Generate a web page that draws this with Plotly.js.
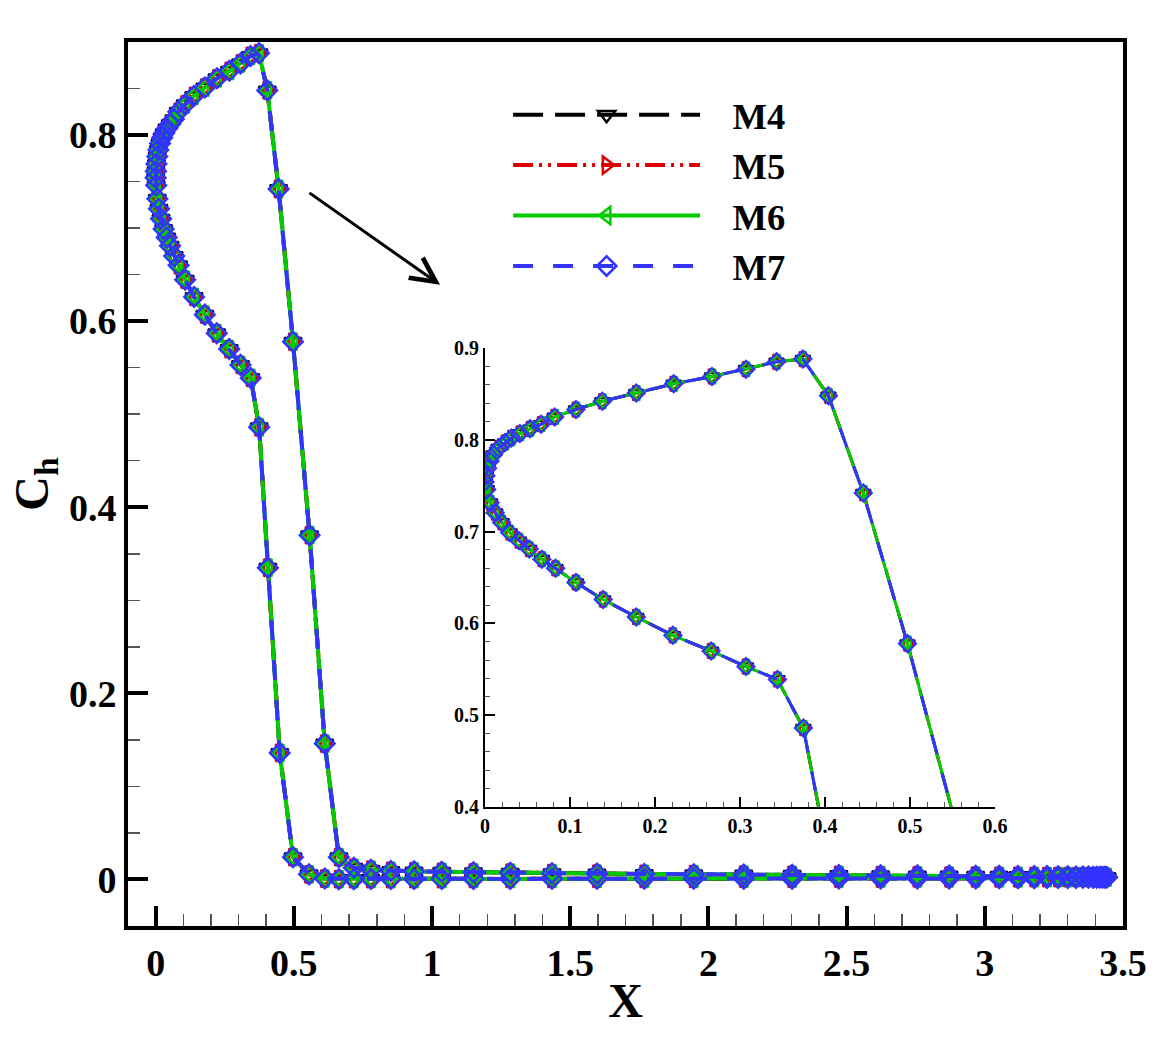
<!DOCTYPE html>
<html>
<head>
<meta charset="utf-8">
<script src="https://cdn.plot.ly/plotly-3.0.1.min.js"></script>
<style>
  html, body { margin: 0; padding: 0; background: #fff; }
  #plot { width: 1171px; height: 1041px; }
</style>
</head>
<body>
<div id="plot"></div>
<script>
"use strict";

// surface stations, nose -> tail (the four meshes overlap)
const xUpper = [0.000, 0.001, 0.003, 0.006, 0.010, 0.016, 0.0235, 0.031, 0.041, 0.053,
  0.066, 0.082, 0.107, 0.138, 0.178, 0.222, 0.267, 0.307, 0.343, 0.374,
  0.404, 0.445, 0.497, 0.557, 0.612, 0.663,
  0.717, 0.779, 0.851, 0.935, 1.035, 1.150, 1.283, 1.434, 1.597, 1.768,
  1.947, 2.128, 2.303, 2.472, 2.623, 2.756, 2.871, 2.967, 3.052, 3.120,
  3.179, 3.225, 3.265, 3.300, 3.330, 3.355, 3.375, 3.392, 3.405, 3.416,
  3.425, 3.432, 3.438, 3.442];
const yUpper = [0.754, 0.761, 0.769, 0.777, 0.784, 0.791, 0.797, 0.802, 0.807, 0.812,
  0.817, 0.825, 0.833, 0.842, 0.851, 0.861, 0.869, 0.877, 0.885, 0.888,
  0.848, 0.742, 0.578, 0.370, 0.146, 0.024,
  0.0125, 0.0105, 0.0092, 0.0087, 0.0082, 0.0077, 0.0073, 0.0068, 0.0063, 0.0059,
  0.0056, 0.0053, 0.0050, 0.0048, 0.0046, 0.0044, 0.0042, 0.0040, 0.0039, 0.0038,
  0.0037, 0.0036, 0.0035, 0.0034, 0.0033, 0.0032, 0.0031, 0.0030, 0.0029, 0.0028,
  0.0027, 0.0026, 0.0025, 0.0024];

const xLower = [0.002, 0.006, 0.012, 0.0196, 0.029, 0.040, 0.052, 0.067, 0.083, 0.107,
  0.139, 0.178, 0.221, 0.266, 0.307, 0.344, 0.3745,
  0.406, 0.449, 0.497, 0.555, 0.612, 0.663,
  0.717, 0.779, 0.851, 0.935, 1.035, 1.150, 1.283, 1.434, 1.597, 1.768,
  1.947, 2.128, 2.303, 2.472, 2.623, 2.756, 2.871, 2.967, 3.052, 3.120,
  3.179, 3.225, 3.265, 3.300, 3.330, 3.355, 3.375, 3.392, 3.405, 3.416,
  3.425, 3.432, 3.438, 3.442];
const yLower = [0.746, 0.7315, 0.7207, 0.710, 0.699, 0.690, 0.681, 0.670, 0.660, 0.6446,
  0.626, 0.607, 0.587, 0.570, 0.553, 0.539, 0.486,
  0.335, 0.136, 0.024, 0.0055, 0.0010, 0.0003,
  0.0003, 0.0004, 0.0004, 0.0005, 0.0005, 0.0006, 0.0006, 0.0007, 0.0007, 0.0008,
  0.0008, 0.0009, 0.0009, 0.0010, 0.0010, 0.0011, 0.0011, 0.0012, 0.0013, 0.0013,
  0.0014, 0.0015, 0.0016, 0.0016, 0.0017, 0.0018, 0.0019, 0.0019, 0.0020, 0.0021,
  0.0021, 0.0022, 0.0023, 0.0023];

const meshNames = ["M4", "M5", "M6", "M7"];
const meshColors = ["#000000", "#dd0000", "#00cc00", "#3333ff"];
const meshDash = ["30px,12px", "20px,6px,3px,6px,3px,6px", "solid", "20px,20px"];
const meshSymbols = ["triangle-down-open", "triangle-right-open", "triangle-left-open", "diamond-open"];

const mainXTicks = [0, 0.5, 1, 1.5, 2, 2.5, 3, 3.5];
const mainYTicks = [0, 0.2, 0.4, 0.6, 0.8];
const insetXTicks = [0, 0.1, 0.2, 0.3, 0.4, 0.5, 0.6];
const insetYTicks = [0.4, 0.5, 0.6, 0.7, 0.8, 0.9];

// one continuous path: lower tail -> nose -> upper tail
const pathX = xLower.slice().reverse().concat(xUpper);
const pathY = yLower.slice().reverse().concat(yUpper);

const serif = "Liberation Serif, Times New Roman, serif";

const data = [];
meshNames.forEach((name, i) => {
  const base = {
    x: pathX,
    y: pathY,
    type: "scatter",
    mode: "lines+markers",
    name: "\u00a0\u00a0\u00a0" + name,
    legendgroup: name,
    line: { color: meshColors[i], width: 4, dash: meshDash[i] },
    marker: { symbol: meshSymbols[i], size: 15, color: meshColors[i], line: { width: 2.5, color: meshColors[i] } },
  };
  data.push(Object.assign({}, base, { xaxis: "x", yaxis: "y" }));
  data.push(Object.assign({}, base, {
    xaxis: "x2", yaxis: "y2", showlegend: false,
    line: { color: meshColors[i], width: 3, dash: meshDash[i] },
    marker: { symbol: meshSymbols[i], size: 13, color: meshColors[i], line: { width: 2.2, color: meshColors[i] } },
  }));
});

const bigFont = { family: serif, size: 38, color: "#000", weight: "bold" };
const smallFont = { family: serif, size: 20, color: "#000", weight: "bold" };

const layout = {
  width: 1171,
  height: 1041,
  margin: { l: 128, r: 48, t: 42, b: 115 },
  paper_bgcolor: "#fff",
  plot_bgcolor: "rgba(0,0,0,0)",
  showlegend: true,
  xaxis: {
    domain: [0, 1],
    range: [-0.1, 3.5],
    tickvals: mainXTicks,
    ticktext: mainXTicks.map(String),
    ticks: "inside",
    ticklen: 20,
    tickwidth: 4,
    tickcolor: "#000",
    showline: true,
    linewidth: 4,
    linecolor: "#000",
    mirror: true,
    showgrid: false,
    zeroline: false,
    tickfont: bigFont,
    title: { text: "X", font: { family: serif, size: 48, color: "#000", weight: "bold" }, standoff: 2 },
    minor: { dtick: 0.1, tick0: 0, ticks: "inside", ticklen: 12, tickwidth: 1.5, tickcolor: "#555", showgrid: false },
  },
  yaxis: {
    domain: [0, 1],
    range: [-0.05, 0.9],
    tickvals: mainYTicks,
    ticktext: mainYTicks.map(String),
    ticks: "inside",
    ticklen: 20,
    tickwidth: 4,
    tickcolor: "#000",
    showline: true,
    linewidth: 4,
    linecolor: "#000",
    mirror: true,
    showgrid: false,
    zeroline: false,
    tickfont: bigFont,
    title: { text: "C<sub>h</sub>", font: { family: serif, size: 48, color: "#000", weight: "bold" }, standoff: 6 },
    minor: { dtick: 0.05, tick0: 0, ticks: "inside", ticklen: 12, tickwidth: 1.5, tickcolor: "#555", showgrid: false },
  },
  xaxis2: {
    domain: [0.3588, 0.8714],
    anchor: "y2",
    range: [0, 0.6],
    tickvals: insetXTicks,
    ticktext: insetXTicks.map(String),
    ticks: "inside",
    ticklen: 10,
    tickwidth: 2,
    tickcolor: "#000",
    showline: true,
    linewidth: 2,
    linecolor: "#000",
    showgrid: false,
    zeroline: false,
    tickfont: smallFont,
    minor: { dtick: 0.02, tick0: 0, ticks: "inside", ticklen: 5, tickwidth: 1, tickcolor: "#555", showgrid: false },
  },
  yaxis2: {
    domain: [0.1346, 0.6538],
    anchor: "x2",
    range: [0.4, 0.9],
    tickvals: insetYTicks,
    ticktext: insetYTicks.map(String),
    ticks: "inside",
    ticklen: 10,
    tickwidth: 2,
    tickcolor: "#000",
    showline: true,
    linewidth: 2,
    linecolor: "#000",
    showgrid: false,
    zeroline: false,
    tickfont: smallFont,
    minor: { dtick: 0.02, tick0: 0.4, ticks: "inside", ticklen: 5, tickwidth: 1, tickcolor: "#555", showgrid: false },
  },
  legend: {
    x: 0.382,
    y: 0.952,
    xanchor: "left",
    yanchor: "top",
    bgcolor: "rgba(0,0,0,0)",
    borderwidth: 0,
    itemwidth: 187,
    tracegroupgap: 0,
    font: { family: serif, size: 36.5, color: "#000", weight: "bold" },
  },
  annotations: [{
    x: 1.029, y: 0.639, xref: "x", yref: "y",
    ax: 0.551, ay: 0.739, axref: "x", ayref: "y",
    text: "", showarrow: true,
    arrowhead: 5, arrowsize: 1.6, arrowwidth: 3, arrowcolor: "#000",
  }],
};

Plotly.newPlot("plot", data, layout, { displayModeBar: false, staticPlot: true });
</script>
</body>
</html>
